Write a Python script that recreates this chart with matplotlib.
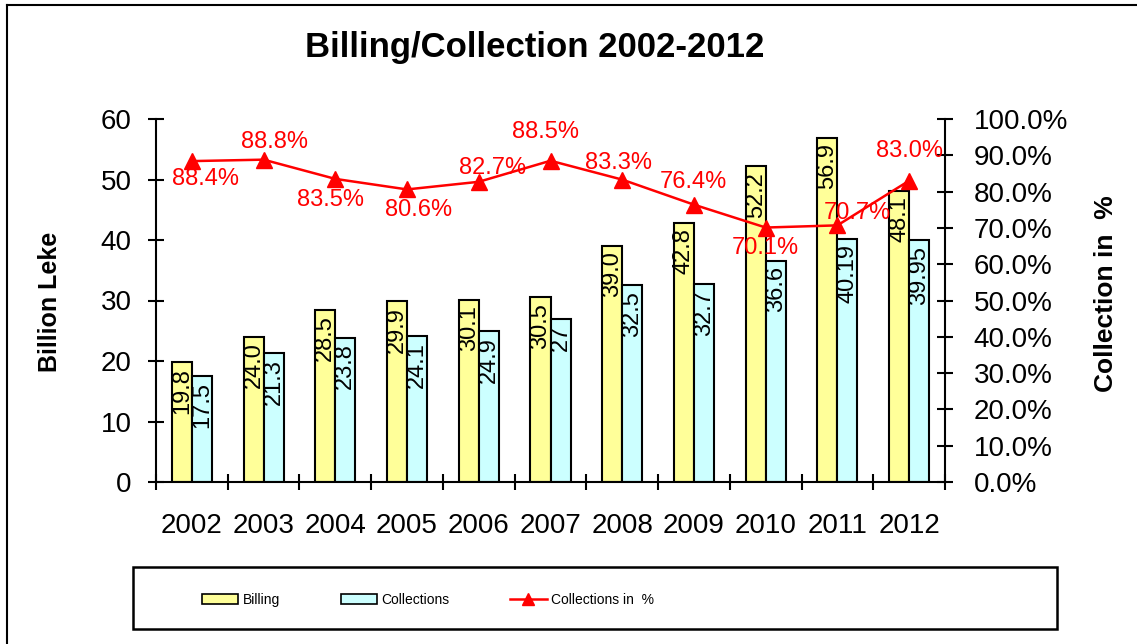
import matplotlib
matplotlib.use("Agg")
import matplotlib.pyplot as plt
from matplotlib.patches import Patch, Rectangle
from matplotlib.lines import Line2D
from matplotlib.ticker import PercentFormatter, FixedLocator, NullFormatter
import numpy as np

# --- Data ---
years = ['2002', '2003', '2004', '2005', '2006', '2007', '2008', '2009', '2010', '2011', '2012']
billing = [19.8, 24.0, 28.5, 29.9, 30.1, 30.5, 39.0, 42.8, 52.2, 56.9, 48.1]
collections = [17.5, 21.3, 23.8, 24.1, 24.9, 27.0, 32.5, 32.7, 36.6, 40.19, 39.95]
collections_pct = [88.4, 88.8, 83.5, 80.6, 82.7, 88.5, 83.3, 76.4, 70.1, 70.7, 83.0]
collections_labels = ['17.5', '21.3', '23.8', '24.1', '24.9', '27', '32.5', '32.7', '36.6', '40.19', '39.95']

# label offsets for the % line (pixels, dx right / dy down)
pct_offsets = [(14, 18), (11, -18), (-5, 21), (12, 21), (14, -14), (-5, -29),
               (-4, -17), (-1, -23), (0, 20), (20, -12), (0, -30)]

# --- Style ---
plt.rcParams['font.family'] = ['Liberation Sans', 'DejaVu Sans']
yellow = '#FFFF99'
cyan = '#CCFFFF'
red = '#FF0000'
W, H = 1137, 644
DPI = 100

fig = plt.figure(figsize=(W / DPI, H / DPI), dpi=DPI)
ax = fig.add_axes([156 / W, 1 - 482 / H, (945 - 156) / W, (482 - 119) / H])
ax2 = ax.twinx()

x = np.arange(len(years))
bw = 0.28
ax.bar(x - bw / 2, billing, bw, color=yellow, edgecolor='black', linewidth=1.5, zorder=2)
ax.bar(x + bw / 2, collections, bw, color=cyan, edgecolor='black', linewidth=1.5, zorder=2)

for i in range(len(years)):
    ax.annotate(f"{billing[i]:.1f}", xy=(x[i] - bw / 2, billing[i]), xytext=(0, -4),
                textcoords='offset points', rotation=90, ha='center', va='top',
                fontsize=17, zorder=3)
    ax.annotate(collections_labels[i], xy=(x[i] + bw / 2, collections[i]), xytext=(0, -4),
                textcoords='offset points', rotation=90, ha='center', va='top',
                fontsize=17, zorder=3)

pct = [p / 100 for p in collections_pct]
ax2.plot(x, pct, color=red, linewidth=1.8, marker='^', markersize=11, zorder=4)
for i in range(len(years)):
    dx, dy = pct_offsets[i]
    ax2.annotate(f"{collections_pct[i]:.1f}%", xy=(x[i], pct[i]),
                 xytext=(dx * 72 / DPI, -dy * 72 / DPI), textcoords='offset points',
                 ha='center', va='center', color=red, fontsize=17)

# --- Axes ---
ax.set_xlim(-0.5, len(years) - 0.5)
ax.set_ylim(0, 60)
ax.set_yticks(range(0, 61, 10))
ax2.set_ylim(0, 1)
ax2.set_yticks(np.linspace(0, 1, 11))
ax2.yaxis.set_major_formatter(PercentFormatter(1.0, decimals=1))

ax.xaxis.set_major_locator(FixedLocator(np.arange(-0.5, len(years), 1.0)))
ax.xaxis.set_major_formatter(NullFormatter())
ax.set_xticks(x, minor=True)
ax.set_xticklabels(years, minor=True)

for a in (ax, ax2):
    a.spines['top'].set_visible(False)
    for s in a.spines.values():
        s.set_linewidth(1.5)
ax.spines['right'].set_visible(False)
ax2.spines['left'].set_visible(False)
ax2.spines['bottom'].set_visible(False)

ax.tick_params(axis='y', direction='inout', length=11, width=1.5, labelsize=20, pad=12)
ax.tick_params(axis='x', which='major', direction='inout', length=11, width=1.5)
ax.tick_params(axis='x', which='minor', length=0, labelsize=20, pad=22)
ax2.tick_params(axis='y', direction='inout', length=11, width=1.5, labelsize=20, pad=15)

ax.set_ylabel('Billion Leke', fontsize=18, fontweight='bold')
ax.yaxis.set_label_coords((62 - 156) / 789, 0.495)
ax2.set_ylabel('Collection in  %', fontsize=19, fontweight='bold')
ax2.yaxis.set_label_coords((1094 - 156) / 789, 0.52)

fig.text(535 / W, 1 - 47 / H, 'Billing/Collection 2002-2012', ha='center', va='center',
         fontsize=25, fontweight='bold')

# --- Legend ---
fig.patches.append(Rectangle((133 / W, 1 - 629 / H), (1057 - 133) / W, (629 - 567) / H,
                             transform=fig.transFigure, fill=False, edgecolor='black',
                             linewidth=1.8))
handles = [Patch(facecolor=yellow, edgecolor='black', linewidth=1.2, label='Billing'),
           Patch(facecolor=cyan, edgecolor='black', linewidth=1.2, label='Collections'),
           Line2D([], [], color=red, linewidth=1.8, marker='^', markersize=8,
                  label='Collections in  %')]
fig.legend(handles=handles, loc='center', bbox_to_anchor=(428 / W, 1 - 600 / H), ncol=3,
           frameon=False, fontsize=10, handlelength=2.6, handleheight=0.72,
           handletextpad=0.3, columnspacing=4.4, borderpad=0)

# --- Outer frame ---
fig.add_artist(Line2D([7 / W, 7 / W], [0, 1 - 5 / H], transform=fig.transFigure,
                      color='black', linewidth=1.5))
fig.add_artist(Line2D([7 / W, 1], [1 - 5 / H, 1 - 5 / H], transform=fig.transFigure,
                      color='black', linewidth=1.5))

fig.savefig('out.png', dpi=DPI)
